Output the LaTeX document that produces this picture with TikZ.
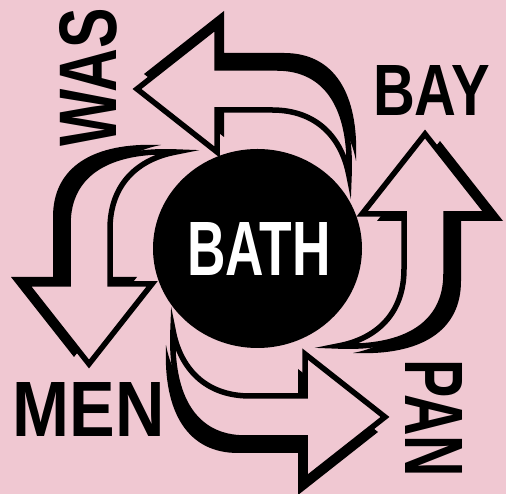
\documentclass[tikz,border=0pt]{standalone}
\usepackage{fontspec}
\setmainfont{Liberation Sans}
\usepackage{graphicx}
\usetikzlibrary{calc, shapes.geometric}
\definecolor{blush}{HTML}{F0C8D2}
\newcommand{\curlpath}{(-120,159) -- (-40,222) -- (-40,180) -- (20,180) .. controls (70,180) and (95,140) .. (92,72) .. controls (85,110) and (60,138) .. (15,138) -- (-40,138) -- (-40,96) -- cycle}
\tikzset{
  curlarrow/.pic={
    \fill[black, shift={(7,15)}] \curlpath;
    \filldraw[fill=blush, draw=black, line width=5.5pt] \curlpath;
  },
  biglabel/.style={inner sep=0pt, font=\bfseries, text=black}
}

\begin{document}
\begin{tikzpicture}[x=1pt, y=1pt]
    % Background
    \fill[blush] (0,0) rectangle (506,494);
    \useasboundingbox (0,0) rectangle (506,494);
    % Hub
    \coordinate (hub) at (257,246);
    \node[ellipse, fill=black, minimum width=209pt, minimum height=199pt, inner sep=0pt] (disc) at (257.5,245.5) {};
    \node[biglabel, text=white] (bath) at (259,244.5) {\resizebox{144pt}{53pt}{BATH}};
    % Arrows
    \foreach \ang/\sx/\sy in {0/0/0, 90/-9/4, 180/8/-10, 270/9/-6}
        \pic[rotate=\ang] at ($(hub)+(\sx,\sy)$) {curlarrow};
    % Words
    \node[biglabel, rotate=90] (was) at (88.5,417) {\resizebox{138pt}{57pt}{WAS}};
    \node[biglabel] (bay) at (431.5,403) {\resizebox{117pt}{50pt}{BAY}};
    \node[biglabel] (men) at (89,84) {\resizebox{152pt}{54pt}{MEN}};
    \node[biglabel, rotate=-90] (pan) at (433.5,75.5) {\resizebox{117pt}{57pt}{PAN}};
\end{tikzpicture}
\end{document}
